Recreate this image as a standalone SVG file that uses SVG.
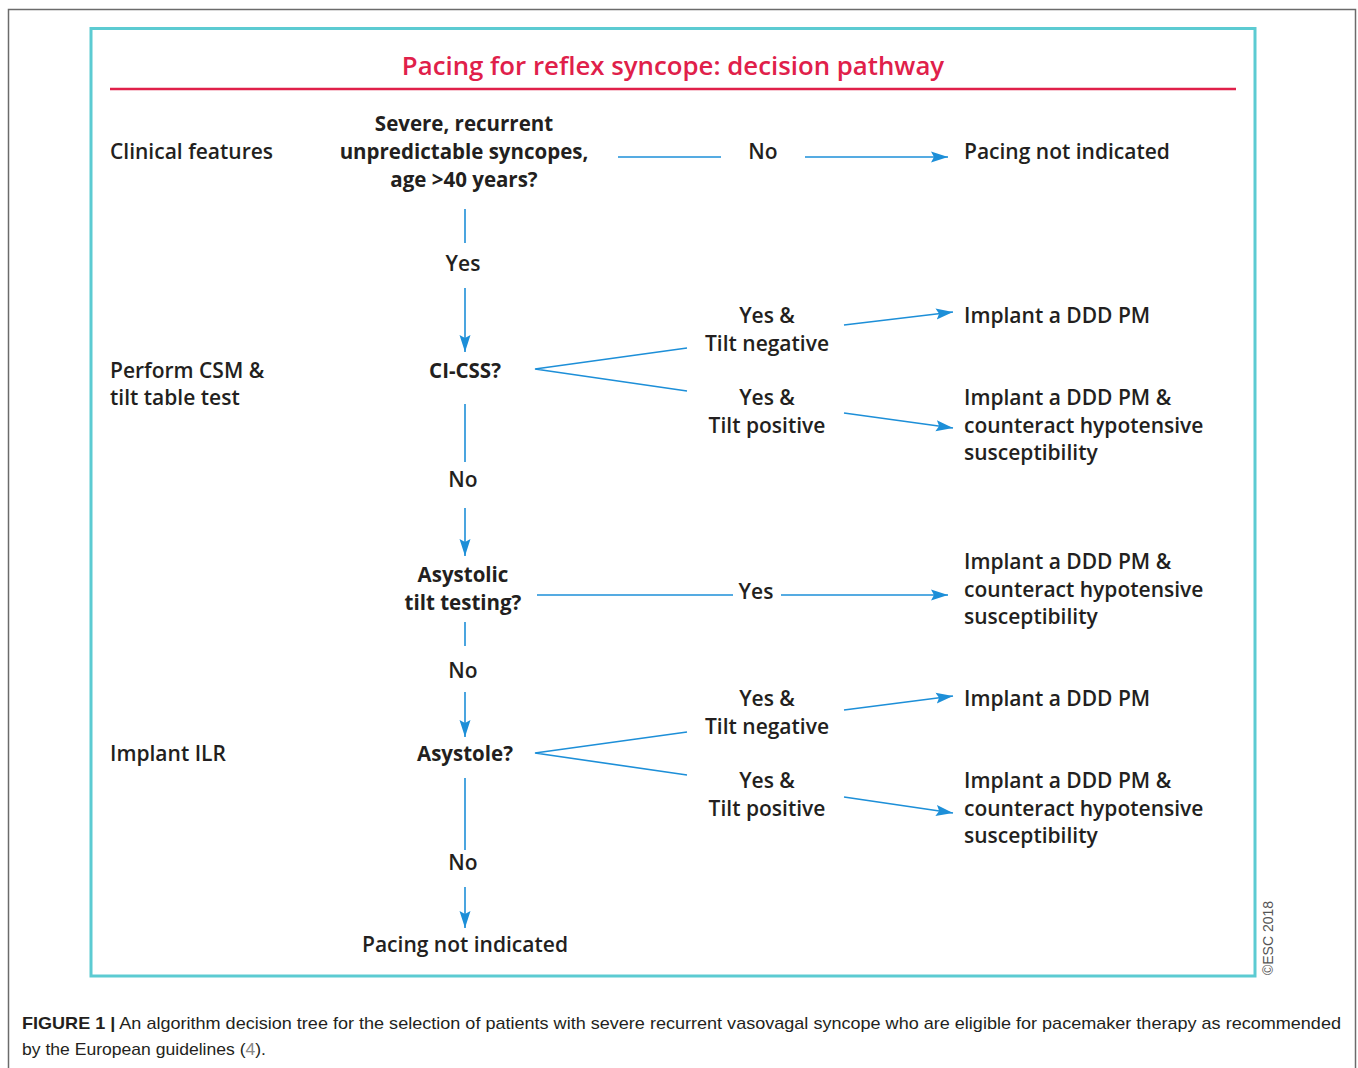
<svg xmlns="http://www.w3.org/2000/svg" width="1358" height="1068" viewBox="0 0 1358 1068">
<style>
.t{font-family:"Open Sans","DejaVu Sans",sans-serif;font-size:21px;font-weight:600;fill:#231f20}
.b{font-weight:bold;font-size:20.5px}
.m{text-anchor:middle}
.c{stroke:#1d8fd8;stroke-width:1.6;fill:none}
.cap{font-family:"Liberation Sans",Arial,sans-serif;font-size:17px;fill:#231f20}
</style>
<defs>
<marker id="ah" markerUnits="userSpaceOnUse" markerWidth="18" markerHeight="14" viewBox="0 0 18 14" refX="17" refY="7" orient="auto">
<path d="M0,1.5 L17,7 L0,12.5 L3,7 Z" fill="#1d8fd8"/>
</marker>
</defs>
<rect x="0" y="0" width="1358" height="1068" fill="#fff"/>
<rect x="8.5" y="9.5" width="1347" height="1080" fill="none" stroke="#6b6b6b" stroke-width="1.5"/>
<rect x="91" y="28.5" width="1164" height="947.5" fill="none" stroke="#5ccbd2" stroke-width="3"/>
<line x1="110" y1="89" x2="1236" y2="89" stroke="#e0204a" stroke-width="2.5"/>
<text id="title" x="673" y="75" class="m" style="font-family:'Open Sans','DejaVu Sans',sans-serif;font-size:25.8px;font-weight:600;fill:#e0204a">Pacing for reflex syncope: decision pathway</text>

<g id="connectors">
<line class="c" x1="618" y1="157" x2="721" y2="157"/>
<line class="c" x1="805" y1="157" x2="948" y2="157" marker-end="url(#ah)"/>
<line class="c" x1="465" y1="209" x2="465" y2="243"/>
<line class="c" x1="465" y1="288" x2="465" y2="352" marker-end="url(#ah)"/>
<polyline class="c" points="687,348 535,369 687,391"/>
<line class="c" x1="844" y1="325" x2="953" y2="312" marker-end="url(#ah)"/>
<line class="c" x1="844" y1="413" x2="953" y2="428" marker-end="url(#ah)"/>
<line class="c" x1="465" y1="404" x2="465" y2="462"/>
<line class="c" x1="465" y1="508" x2="465" y2="556" marker-end="url(#ah)"/>
<line class="c" x1="537" y1="595" x2="733" y2="595"/>
<line class="c" x1="781" y1="595" x2="948" y2="595" marker-end="url(#ah)"/>
<line class="c" x1="465" y1="622" x2="465" y2="646"/>
<line class="c" x1="465" y1="692" x2="465" y2="737" marker-end="url(#ah)"/>
<polyline class="c" points="687,732 535,753 687,775"/>
<line class="c" x1="844" y1="710" x2="953" y2="696" marker-end="url(#ah)"/>
<line class="c" x1="844" y1="797" x2="953" y2="813" marker-end="url(#ah)"/>
<line class="c" x1="465" y1="778" x2="465" y2="850"/>
<line class="c" x1="465" y1="887" x2="465" y2="928" marker-end="url(#ah)"/>
</g>

<g id="row-labels">
<text class="t" x="110" y="159">Clinical features</text>
<text class="t" x="110" y="378">Perform CSM &amp;</text>
<text class="t" x="110" y="405">tilt table test</text>
<text class="t" x="110" y="761">Implant ILR</text>
</g>

<g id="q1"><text class="t b m" x="464" y="131">Severe, recurrent</text>
<text class="t b m" x="464" y="159">unpredictable syncopes,</text>
<text class="t b m" x="464" y="187">age &gt;40 years?</text></g>
<g id="l-no1"><text class="t m" x="763" y="159">No</text></g>
<g id="r1"><text class="t" x="964" y="159">Pacing not indicated</text></g>
<g id="l-yes1"><text class="t m" x="463" y="271">Yes</text></g>

<g id="q2"><text class="t b m" x="465" y="378">CI-CSS?</text></g>
<g id="l-yn2"><text class="t m" x="767" y="323">Yes &amp;</text><text class="t m" x="767" y="351">Tilt negative</text></g>
<g id="l-yp2"><text class="t m" x="767" y="405">Yes &amp;</text><text class="t m" x="767" y="433">Tilt positive</text></g>
<g id="r2"><text class="t" x="964" y="323">Implant a DDD PM</text></g>
<g id="r3"><text class="t" x="964" y="405">Implant a DDD PM &amp;</text><text class="t" x="964" y="433">counteract hypotensive</text><text class="t" x="964" y="460">susceptibility</text></g>
<g id="l-no2"><text class="t m" x="463" y="487">No</text></g>

<g id="q3"><text class="t b m" x="463" y="582">Asystolic</text><text class="t b m" x="463" y="610">tilt testing?</text></g>
<g id="l-yes3"><text class="t m" x="756" y="599">Yes</text></g>
<g id="r4"><text class="t" x="964" y="569">Implant a DDD PM &amp;</text><text class="t" x="964" y="597">counteract hypotensive</text><text class="t" x="964" y="624">susceptibility</text></g>
<g id="l-no3"><text class="t m" x="463" y="678">No</text></g>

<g id="q4"><text class="t b m" x="465" y="761">Asystole?</text></g>
<g id="l-yn4"><text class="t m" x="767" y="706">Yes &amp;</text><text class="t m" x="767" y="734">Tilt negative</text></g>
<g id="l-yp4"><text class="t m" x="767" y="788">Yes &amp;</text><text class="t m" x="767" y="816">Tilt positive</text></g>
<g id="r5"><text class="t" x="964" y="706">Implant a DDD PM</text></g>
<g id="r6"><text class="t" x="964" y="788">Implant a DDD PM &amp;</text><text class="t" x="964" y="816">counteract hypotensive</text><text class="t" x="964" y="843">susceptibility</text></g>
<g id="l-no4"><text class="t m" x="463" y="870">No</text></g>
<g id="r7"><text class="t m" x="465" y="952">Pacing not indicated</text></g>

<text x="1273" y="938" transform="rotate(-90 1273 938)" class="m" style="font-family:'Liberation Sans',Arial,sans-serif;font-size:14px;fill:#555">©ESC 2018</text>

<text class="cap" x="22" y="1029" textLength="1319" lengthAdjust="spacingAndGlyphs"><tspan font-weight="bold">FIGURE 1 |</tspan> An algorithm decision tree for the selection of patients with severe recurrent vasovagal syncope who are eligible for pacemaker therapy as recommended</text>
<text class="cap" x="22" y="1055" textLength="244" lengthAdjust="spacingAndGlyphs">by the European guidelines (<tspan fill="#888">4</tspan>).</text>
</svg>
